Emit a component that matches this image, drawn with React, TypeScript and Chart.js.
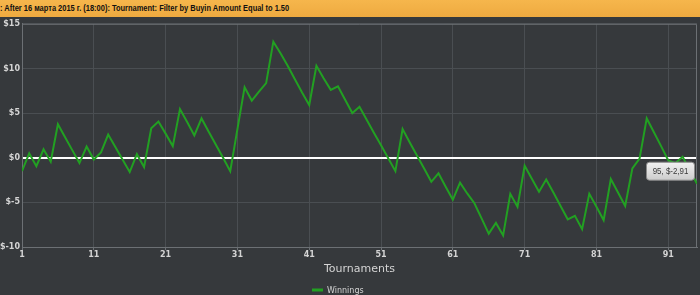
import React, { useEffect, useRef } from "react";
import { Chart, registerables } from "chart.js";

Chart.register(...registerables);

const TITLE_TEXT = ": After 16 марта 2015 г. (18:00): Tournament: Filter by Buyin Amount Equal to 1.50";
const SERIES_NAME = "Winnings";
const X_TITLE = "Tournaments";

const tournaments: number[] = Array.from({ length: 95 }, (_, i) => i + 1);
const winnings: number[] = [
  -1.5, 0.5, -0.95, 0.95, -0.45, 3.75, 2.3, 0.85, -0.6, 1.25,
  -0.2, 0.6, 2.6, 1.2, -0.2, -1.6, 0.4, -1.05, 3.3, 4.05,
  2.7, 1.3, 5.45, 4.0, 2.5, 4.4, 2.9, 1.45, 0.0, -1.5,
  3.2, 7.9, 6.4, 7.4, 8.35, 13.0, 11.7, 10.3, 8.8, 7.3,
  5.9, 10.3, 8.9, 7.6, 8.0, 6.5, 5.0, 5.7, 4.25, 2.8,
  1.4, -0.05, -1.5, 3.2, 1.7, 0.25, -1.2, -2.7, -1.75, -3.25,
  -4.7, -2.8, -4.0, -5.1, -6.8, -8.5, -7.3, -8.7, -4.05, -5.5,
  -0.9, -2.35, -3.8, -2.45, -3.9, -5.4, -6.9, -6.5, -8.0, -4.05,
  -5.5, -7.0, -2.4, -3.9, -5.4, -1.2, -0.1, 4.4, 2.85, 1.3,
  -0.3, -0.6, 0.1, -1.4, -2.91,
];
const xTickValues: number[] = [1, 11, 21, 31, 41, 51, 61, 71, 81, 91];
const yTickValues: number[] = [-10, -5, 0, 5, 10, 15];
const tooltipIndex = 95;
const tooltipText = "95, $-2,91";

const BG = "#36393c";
const GRID = "#4a4e52";
const AXIS = "#6c7074";
const LINE = "#22a022";
const TEXT = "#d4d4d4";

const extrasPlugin = {
  id: "extras",
  beforeDatasetsDraw(chart: any) {
    const { ctx, chartArea } = chart;
    ctx.save();
    ctx.strokeStyle = AXIS;
    ctx.lineWidth = 1;
    ctx.beginPath();
    ctx.moveTo(chartArea.left, chartArea.top + 0.5);
    ctx.lineTo(chartArea.right - 0.5, chartArea.top + 0.5);
    ctx.lineTo(chartArea.right - 0.5, chartArea.bottom);
    ctx.stroke();
    ctx.restore();
  },
  afterDraw(chart: any) {
    const { ctx } = chart;
    const xs = chart.scales.x;
    const ys = chart.scales.y;
    ctx.save();
    // legend
    const ly = 273;
    ctx.fillStyle = LINE;
    ctx.fillRect(312, ly - 1.5, 11, 3);
    ctx.fillStyle = TEXT;
    ctx.font = "8px 'DejaVu Sans'";
    ctx.textBaseline = "middle";
    ctx.textAlign = "left";
    ctx.fillText(SERIES_NAME, 327, ly + 0.5);
    // tooltip
    const px = xs.getPixelForValue(tooltipIndex);
    const py = ys.getPixelForValue(winnings[tooltipIndex - 1]);
    const w = 48, h = 18;
    const bx = px - 3 - w, by = py - 4 - h;
    const g = ctx.createLinearGradient(0, by, 0, by + h);
    g.addColorStop(0, "#f2f2f2");
    g.addColorStop(1, "#cdcdcd");
    ctx.beginPath();
    ctx.roundRect(bx + 0.5, by + 0.5, w, h, 3);
    ctx.fillStyle = g;
    ctx.fill();
    ctx.strokeStyle = "#8a8a8a";
    ctx.lineWidth = 1;
    ctx.stroke();
    ctx.fillStyle = "#3a3a3a";
    ctx.font = "9px 'Liberation Sans'";
    ctx.textAlign = "center";
    ctx.textBaseline = "middle";
    ctx.translate(bx + w / 2 + 0.5, by + h / 2 + 1);
    ctx.scale(0.88, 1);
    ctx.fillText(tooltipText, 0, 0);
    ctx.restore();
  },
};

export default function App() {
  const ref = useRef<HTMLCanvasElement | null>(null);
  useEffect(() => {
    document.body.style.margin = "0";
    const chart = new Chart(ref.current as HTMLCanvasElement, {
      type: "line",
      data: {
        datasets: [
          {
            label: SERIES_NAME,
            data: tournaments.map((t, i) => ({ x: t, y: winnings[i] })),
            borderColor: LINE,
            backgroundColor: LINE,
            borderWidth: 2,
            pointRadius: 0,
            tension: 0,
          },
        ],
      },
      options: {
        animation: false,
        responsive: false,
        maintainAspectRatio: false,
        layout: { padding: { top: 3, right: 3, left: 0, bottom: 0 } },
        plugins: { legend: { display: false }, tooltip: { enabled: false } },
        scales: {
          x: {
            type: "linear",
            min: 1,
            max: 95,
            afterBuildTicks: (axis: any) => {
              axis.ticks = xTickValues.map((v) => ({ value: v }));
            },
            afterFit: (axis: any) => {
              axis.height = 48;
            },
            grid: { color: GRID, lineWidth: 1, drawTicks: true, tickLength: 3, tickColor: AXIS },
            border: { color: AXIS, width: 1 },
            ticks: {
              color: TEXT,
              font: { family: "'DejaVu Sans'", size: 8, weight: "bold" },
              padding: 0,
              maxRotation: 0,
              autoSkip: false,
            },
            title: {
              display: true,
              text: X_TITLE,
              color: TEXT,
              font: { family: "'DejaVu Sans'", size: 11 },
              padding: { top: 0, bottom: 19 },
            },
          },
          y: {
            min: -10,
            max: 15,
            afterBuildTicks: (axis: any) => {
              axis.ticks = yTickValues.map((v) => ({ value: v }));
            },
            afterFit: (axis: any) => {
              axis.width = 22;
            },
            grid: {
              color: (c: any) => (c.tick && c.tick.value === 0 ? "#ffffff" : GRID),
              lineWidth: (c: any) => (c.tick && c.tick.value === 0 ? 2 : 1),
              drawTicks: false,
            },
            border: { color: AXIS, width: 1 },
            ticks: {
              color: TEXT,
              font: { family: "'DejaVu Sans'", size: 8, weight: "bold" },
              padding: 2,
              callback: (v: any) => "$" + v,
            },
          },
        },
      },
      plugins: [extrasPlugin],
    });
    return () => chart.destroy();
  }, []);

  return (
    <div style={{ width: 700, height: 295, background: BG, overflow: "hidden" }}>
      <div
        style={{
          height: 17,
          background: "linear-gradient(#f6b64c, #eeaa40)",
          color: "#111",
          fontFamily: "'Liberation Sans', sans-serif",
          fontWeight: "bold",
          fontSize: 9,
          lineHeight: "17px",
          whiteSpace: "nowrap",
          overflow: "hidden",
        }}
      >
        <span style={{ display: "inline-block", transform: "scaleX(0.83)", transformOrigin: "left center" }}>
          {TITLE_TEXT}
        </span>
      </div>
      <canvas ref={ref} width={700} height={278} style={{ display: "block" }} />
    </div>
  );
}
